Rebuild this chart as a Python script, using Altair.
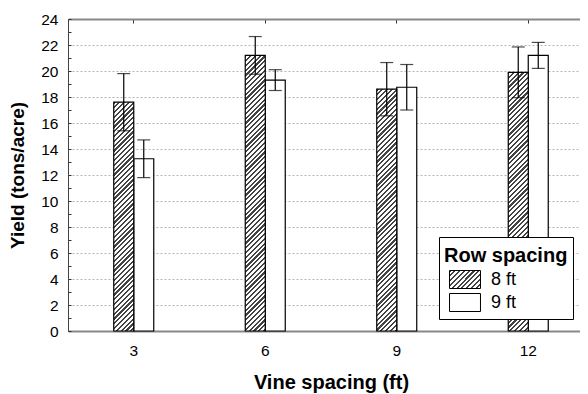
import json
import altair as alt
import pandas as pd

# ---- data ----
vine = [3, 6, 9, 12]
rows = ["8 ft", "9 ft"]
mean_8 = [17.6, 21.2, 18.6, 19.9]
err_8 = [2.2, 1.45, 2.05, 1.95]
mean_9 = [13.25, 19.3, 18.75, 21.2]
err_9 = [1.45, 0.8, 1.75, 1.0]

df8 = pd.DataFrame({"vine": vine, "row": rows[0], "mean": mean_8,
                    "lo": [m - e for m, e in zip(mean_8, err_8)],
                    "hi": [m + e for m, e in zip(mean_8, err_8)]})
df9 = pd.DataFrame({"vine": vine, "row": rows[1], "mean": mean_9,
                    "lo": [m - e for m, e in zip(mean_9, err_9)],
                    "hi": [m + e for m, e in zip(mean_9, err_9)]})

# ---- layout constants ----
W, H = 512, 312          # visible plot area (svg is 572 wide: no rescaling)
XRANGE = 526             # full band range; the right part runs past the page edge
YMAX = 24
BAR_W = 20
PX_PER_UNIT = H / YMAX
FONT = "Liberation Sans"


def hatch(w, h, period=4.8, dark=0.45, color="#444444"):
    """Linear gradient that draws 45-degree '/' stripes on a w x h box."""
    L = w + h
    a = L / (w * w + h * h)
    stops = []
    k = 0
    while k * period < L:
        o0 = min(k * period / L, 1)
        o1 = min((k * period + dark * period) / L, 1)
        o2 = min((k + 1) * period / L, 1)
        stops += [
            {"offset": o0, "color": color},
            {"offset": o1, "color": color},
            {"offset": o1, "color": "white"},
            {"offset": o2, "color": "white"},
        ]
        k += 1
    return {"gradient": "linear", "x1": 0, "y1": 0,
            "x2": a * w, "y2": a * h, "stops": stops}


legend_expr = json.dumps(hatch(31, 18))

conds = [{"test": f"datum.vine == {v}", "value": hatch(BAR_W, m * PX_PER_UNIT)}
         for v, m in zip(vine, mean_8)]

xscale = alt.Scale(range=[0, XRANGE], paddingInner=0, paddingOuter=0)
yscale = alt.Scale(domain=[0, YMAX], nice=False)

bars9 = alt.Chart(df9).mark_bar(stroke="black", strokeWidth=1.2, width=BAR_W,
                                xOffset=BAR_W / 2).encode(
    x=alt.X("vine:O", scale=xscale,
            axis=alt.Axis(title="Vine spacing (ft)", labelAngle=0, labelFontSize=15.5,
                          labelPadding=12, ticks=False, domainColor="#888888",
                          domainWidth=2, titleFontSize=20, titleFontWeight="bold",
                          titlePadding=14, grid=False, labelColor="black",
                          titleColor="black")),
    y=alt.Y("mean:Q", scale=yscale,
            axis=alt.Axis(values=list(range(0, YMAX + 1, 2)), title="Yield (tons/acre)",
                          titleFontSize=19, titleFontWeight="bold", titlePadding=13,
                          labelFontSize=15.5, labelPadding=10, ticks=False,
                          domain=True, domainColor="#444444", domainWidth=1,
                          grid=True, gridColor="#b5b5b5", gridDash=[2, 2],
                          labelColor="black", titleColor="black")),
    fill=alt.Fill("row:N",
                  scale=alt.Scale(domain=rows, range=[{"expr": legend_expr}, "white"]),
                  legend=alt.Legend(orient="none", legendX=371, legendY=218,
                                    title="Row spacing", titleFontSize=20,
                                    titleFontWeight="bold", titleColor="black",
                                    titleBaseline="line-top", titleLineHeight=29,
                                    labelFontSize=18, labelColor="black",
                                    symbolType="M-1.72,-1H1.72V1H-1.72Z", symbolSize=324,
                                    symbolStrokeColor="black", symbolStrokeWidth=1,
                                    symbolOffset=11.5, labelOffset=16.5, rowPadding=0,
                                    padding=5, strokeColor="black", fillColor="white",
                                    titlePadding=8, zindex=2)),
)

bars8 = alt.Chart(df8).mark_bar(stroke="black", strokeWidth=1.2, width=BAR_W,
                                xOffset=-BAR_W / 2).encode(
    x=alt.X("vine:O", scale=xscale,
            axis=alt.Axis(orient="bottom", offset=-H, labels=False, ticks=True,
                          tickSize=4, tickColor="#333333", domain=True,
                          domainColor="#888888", domainWidth=2, title=None, grid=False)),
    y=alt.Y("mean:Q", scale=yscale,
            axis=alt.Axis(orient="right", offset=-W, values=list(range(0, YMAX + 1)),
                          labels=False, ticks=True, tickSize=3, tickColor="#333333",
                          domain=False, grid=False, title=None)),
    fill={"condition": conds, "value": "white"},
)


def err_layers(d, off):
    b = alt.Chart(d)
    rule = b.mark_rule(color="black", strokeWidth=1.2, xOffset=off).encode(
        x=alt.X("vine:O", scale=xscale, axis=None),
        y=alt.Y("lo:Q", scale=yscale, axis=None),
        y2="hi:Q",
    )
    hi = b.mark_tick(color="black", size=13, thickness=1.2, orient="horizontal",
                     xOffset=off).encode(
        x=alt.X("vine:O", scale=xscale, axis=None),
        y=alt.Y("hi:Q", scale=yscale, axis=None),
    )
    lo = b.mark_tick(color="black", size=13, thickness=1.2, orient="horizontal",
                     xOffset=off).encode(
        x=alt.X("vine:O", scale=xscale, axis=None),
        y=alt.Y("lo:Q", scale=yscale, axis=None),
    )
    return [rule, hi, lo]


layers = [bars9, bars8] + err_layers(df8, -BAR_W / 2) + err_layers(df9, BAR_W / 2)

chart = alt.layer(*layers).resolve_axis(
    x="independent", y="independent"
).properties(
    width=W, height=H,
    autosize=alt.AutoSizeParams(type="none"),
    padding={"left": 60, "top": 11, "right": 0, "bottom": 62},
).configure(font=FONT).configure_view(stroke=None)

chart.save("out.html", embed_options={"renderer": "svg", "actions": False})
